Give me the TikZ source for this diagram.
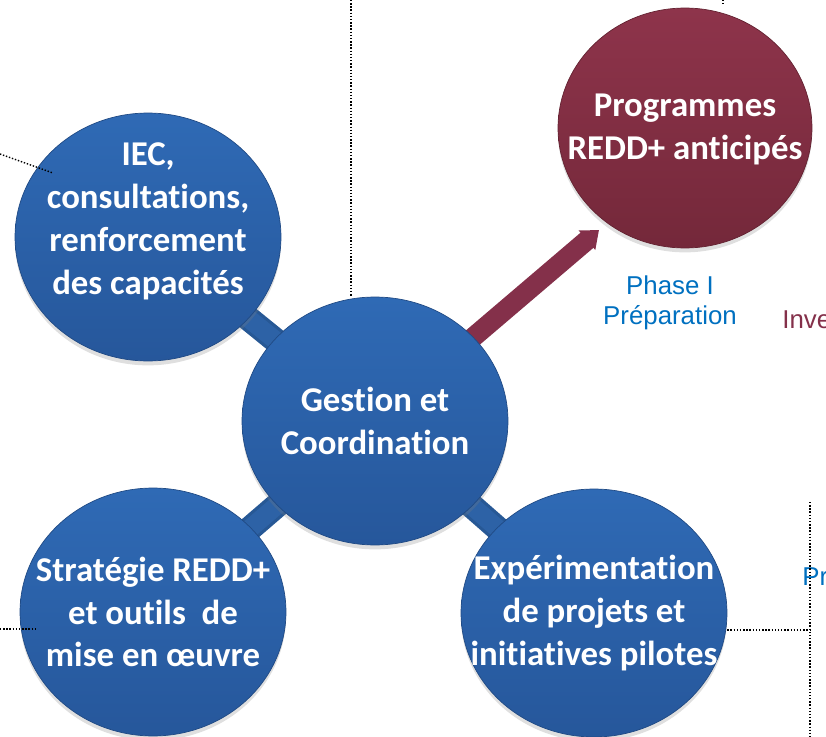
\documentclass[tikz,border=0pt]{standalone}
\usepackage{fontspec}
\newfontfamily\bubblefont[RawFeature={-liga;-clig;-dlig;-calt;-rlig}]{Carlito}
\newfontfamily\phasefont{Liberation Sans}
\usetikzlibrary{shapes.geometric,arrows.meta,shadows}

\definecolor{bubbletop}{HTML}{2F6AB5}
\definecolor{bubblebot}{HTML}{26579B}
\definecolor{barblue}{HTML}{2D62A6}
\definecolor{bardark}{HTML}{275895}
\definecolor{winetop}{HTML}{8E344B}
\definecolor{winebot}{HTML}{74283A}
\definecolor{wine}{HTML}{84304A}
\definecolor{phaseblue}{HTML}{0070C0}

\begin{document}
\begin{tikzpicture}[
        x=0.02cm, y=-0.02cm,
        bubble/.style={ellipse, minimum width=5.32cm, minimum height=4.96cm, inner sep=0pt,
            top color=bubbletop, bottom color=bubblebot, draw=bubblebot!85!black, line width=0.4pt,
            drop shadow={opacity=0.25, shadow xshift=0pt, shadow yshift=-2.5pt}},
        goal/.style={bubble, minimum width=5.08cm, minimum height=4.8cm,
            top color=winetop, bottom color=winebot, draw=winebot!85!black},
        bubbletext/.style={text=white, align=center, inner sep=0pt,
            font=\bubblefont\bfseries\fontsize{19.8}{24.4}\selectfont},
        bar/.style={draw=bardark, line width=1.8pt, double=barblue, double distance=10.5pt},
        wingarrow/.style={draw=wine, line width=11.3pt, -{Triangle[length=9pt,width=14pt]}},
        phase/.style={text=phaseblue, align=center, inner sep=0pt,
            font=\phasefont\fontsize{14.7}{17}\selectfont},
        guide/.style={densely dotted, line width=0.8pt}
    ]

    \useasboundingbox (0,0) rectangle (826,737);
    \clip (0,0) rectangle (826,737);

    % --- Hub and bubbles ---
    \coordinate (hub) at (375,421);
    \coordinate (redtip) at (599,230);

    % bars under the bubbles
    \draw[bar] (hub) -- (148,237) coordinate (iecc);
    \draw[bar] (hub) -- (153,612) coordinate (stratc);
    \draw[bar] (hub) -- (594,613) coordinate (expc);
    \draw[wingarrow] (hub) -- (redtip);

    \node[bubble] (gestion) at (hub) {};
    \node[bubble] (iec) at (iecc) {};
    \node[bubble] (strat) at (stratc) {};
    \node[bubble] (exp) at (expc) {};
    \node[goal] (redd) at (685,128) {};

    % --- Texts ---
    \node[bubbletext] (gestion-text) at (gestion) {Gestion et\\Coordination};
    \node[bubbletext, yshift=9pt] (iec-text) at (iec) {IEC,\\consultations,\\renforcement\\des capacités};
    \node[bubbletext] (strat-text) at (strat) {Stratégie REDD+\\et outils\ \ de\\mise en œuvre};
    \node[bubbletext] (exp-text) at (exp) {Expérimentation\\de projets et\\initiatives pilotes};
    \node[bubbletext, yshift=-1pt] (redd-text) at (redd) {Programmes\\REDD+ anticipés};

    \node[phase] (phase1) at (670,303) {Phase I\\Préparation};
    \node[phase, text=wine, anchor=west] (phase2) at (782,320) {Inve};
    \node[phase, anchor=west] (phase3) at (802,577) {Pr};

    % --- Dotted guides ---
    \coordinate (g1) at (351,0);
    \coordinate (g2) at (0,154);
    \coordinate (g2e) at (53,173);
    \coordinate (g3) at (0,629);
    \coordinate (g3e) at (37,629);
    \coordinate (g4) at (810,630);
    \coordinate (g5) at (810,502);
    \coordinate (g6) at (810,737);
    \coordinate (g7) at (723,0);
    \coordinate (g7e) at (723,4);

    \draw[guide] (g1) -- (g1 |- gestion.north);
    \draw[guide] (g2) -- (g2e);
    \draw[guide] (g3) -- (g3e);
    \draw[guide] (exp.east |- g4) -- (g4);
    \draw[guide] (g5) -- (g6);
    \draw[guide] (g7) -- (g7e);

\end{tikzpicture}
\end{document}
